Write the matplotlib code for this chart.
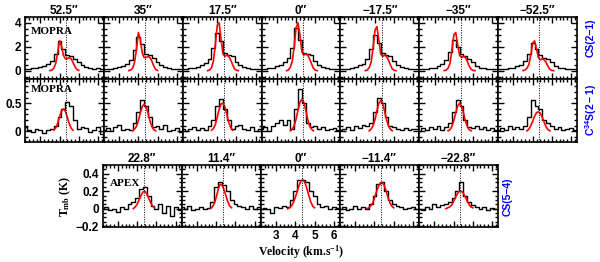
import matplotlib
matplotlib.use("Agg")
import matplotlib.pyplot as plt
from matplotlib.ticker import MultipleLocator
import numpy as np

nan = np.nan

# velocity channels (km/s) of the observed spectra
VEL = [2.2, 2.4, 2.6, 2.8, 3.0, 3.2, 3.4, 3.6, 3.8, 4.0, 4.2,
       4.4, 4.6, 4.8, 5.0, 5.2, 5.4, 5.6, 5.8, 6.0, 6.2, 6.4]
VSYS = 4.35

# CS(2-1), MOPRA
CS21_OFFSETS = ["52.5″", "35″", "17.5″", "0″", "−17.5″", "−35″", "−52.5″"]
CS21_OBS = [
    [0.15, 0.15, 0.2, 0.25, 0.3, 0.4, 0.55, 0.8, 1.4, 2.5, 1.8, 1.3, 1.2, 1.0, 0.7, 0.45, 0.3, 0.2, 0.15, 0.2, 0.1, 0.1],
    [0.1, 0.1, 0.15, 0.2, 0.3, 0.4, 0.55, 0.9, 1.7, 2.8, 2.2, 1.4, 1.3, 1.1, 0.7, 0.45, 0.3, 0.2, 0.15, 0.1, 0.1, 0.1],
    [0.1, 0.15, 0.2, 0.25, 0.3, 0.45, 0.65, 1.0, 1.9, 3.2, 2.5, 1.5, 1.3, 1.2, 0.7, 0.45, 0.3, 0.2, 0.15, 0.15, 0.1, 0.1],
    [0.1, 0.15, 0.2, 0.25, 0.35, 0.5, 0.7, 1.1, 1.9, 3.6, 2.6, 1.5, 1.4, 1.3, 0.8, 0.5, 0.3, 0.25, 0.15, 0.15, 0.1, 0.1],
    [0.1, 0.1, 0.15, 0.2, 0.3, 0.45, 0.6, 1.0, 1.8, 3.0, 2.3, 1.5, 1.3, 1.2, 0.8, 0.45, 0.3, 0.2, 0.15, 0.1, 0.1, 0.1],
    [0.1, 0.1, 0.15, 0.2, 0.25, 0.4, 0.55, 0.9, 1.6, 2.6, 2.0, 1.4, 1.2, 1.0, 0.7, 0.4, 0.25, 0.2, 0.15, 0.1, 0.1, 0.1],
    [0.1, 0.15, 0.15, 0.2, 0.25, 0.35, 0.5, 0.8, 1.4, 2.3, 1.8, 1.3, 1.1, 1.0, 0.7, 0.4, 0.25, 0.2, 0.15, 0.1, 0.1, 0.1],
]
CS21_VMOD = [3.5, 3.6, 3.7, 3.8, 3.9, 4.0, 4.1, 4.2, 4.3, 4.4, 4.5, 4.6, 4.7, 4.8, 4.9, 5.0, 5.1]
CS21_MOD = [
    [0.0, 0.05, 0.2, 0.6, 1.5, 2.5, 2.1, 1.3, 1.0, 1.0, 1.1, 1.0, 0.7, 0.35, 0.1, 0.02, nan],
    [0.0, 0.05, 0.2, 0.7, 1.8, 3.2, 2.6, 1.5, 1.1, 1.1, 1.2, 1.1, 0.8, 0.4, 0.1, 0.02, nan],
    [0.0, 0.05, 0.25, 0.8, 2.2, 3.8, 4.0, 2.6, 1.4, 1.2, 1.3, 1.2, 0.9, 0.5, 0.15, 0.03, 0.0],
    [0.0, 0.05, 0.3, 0.8, 2.0, 3.6, 4.0, 3.0, 1.6, 1.3, 1.4, 1.3, 1.0, 0.6, 0.2, 0.05, 0.0],
    [0.0, 0.05, 0.25, 0.7, 1.9, 3.4, 3.7, 2.6, 1.4, 1.2, 1.3, 1.2, 0.9, 0.5, 0.15, 0.03, 0.0],
    [0.0, 0.05, 0.2, 0.6, 1.7, 3.0, 3.2, 2.2, 1.3, 1.1, 1.2, 1.1, 0.8, 0.4, 0.12, 0.02, 0.0],
    [0.0, 0.05, 0.2, 0.5, 1.3, 2.3, 2.5, 1.8, 1.1, 0.9, 1.0, 0.9, 0.7, 0.35, 0.1, 0.02, 0.0],
]

# C34S(2-1), MOPRA
C34S_OBS = [
    [0.08, 0.03, -0.02, 0.05, 0.02, -0.03, 0.02, 0.04, 0.1, 0.25, 0.4, 0.52, 0.45, 0.2, 0.05, 0.08, 0.06, -0.02, 0.03, 0.08, -0.05, 0.05],
    [0.03, 0.06, 0.0, 0.08, 0.12, 0.02, 0.05, 0.03, 0.15, 0.35, 0.55, 0.45, 0.25, 0.08, 0.1, 0.05, 0.12, 0.0, 0.03, 0.06, -0.02, 0.05],
    [0.05, 0.0, 0.04, 0.08, 0.02, 0.06, 0.03, 0.1, 0.2, 0.45, 0.58, 0.4, 0.2, 0.05, 0.1, 0.12, 0.05, 0.03, 0.08, 0.0, 0.04, 0.02],
    [0.05, 0.08, 0.0, 0.1, 0.15, 0.2, 0.12, 0.2, 0.05, 0.4, 0.75, 0.5, 0.15, 0.08, 0.1, 0.05, 0.07, 0.03, 0.05, 0.06, 0.02, 0.04],
    [0.02, 0.05, 0.08, 0.03, 0.1, 0.06, 0.12, 0.1, 0.15, 0.35, 0.6, 0.5, 0.25, 0.1, 0.08, 0.05, 0.03, 0.06, 0.02, 0.04, 0.05, 0.03],
    [0.0, 0.06, 0.02, 0.08, 0.05, 0.1, 0.03, 0.08, 0.15, 0.35, 0.55, 0.45, 0.2, 0.08, 0.06, 0.1, 0.05, 0.08, 0.03, 0.06, 0.02, 0.04],
    [0.03, 0.06, 0.02, 0.1, 0.05, 0.08, 0.05, 0.1, 0.25, 0.55, 0.45, 0.4, 0.2, 0.15, 0.1, 0.05, 0.08, 0.02, 0.04, 0.06, 0.03, 0.05],
]
C34S_VMOD = [3.7, 3.8, 3.9, 4.0, 4.1, 4.2, 4.3, 4.4, 4.5, 4.6, 4.7, 4.8, 4.9]
C34S_MOD = [
    [0.02, 0.06, 0.14, 0.26, 0.36, 0.4, 0.36, 0.26, 0.14, 0.06, 0.02, nan, nan],
    [0.01, 0.04, 0.09, 0.19, 0.33, 0.44, 0.48, 0.44, 0.33, 0.19, 0.09, 0.03, 0.01],
    [0.02, 0.05, 0.12, 0.25, 0.39, 0.49, 0.5, 0.43, 0.3, 0.16, 0.07, 0.02, nan],
    [0.01, 0.04, 0.1, 0.22, 0.38, 0.52, 0.57, 0.52, 0.38, 0.22, 0.1, 0.04, 0.01],
    [0.01, 0.04, 0.1, 0.21, 0.36, 0.5, 0.55, 0.5, 0.36, 0.21, 0.1, 0.04, 0.01],
    [0.01, 0.03, 0.09, 0.19, 0.33, 0.45, 0.5, 0.45, 0.33, 0.19, 0.09, 0.03, 0.01],
    [0.01, 0.04, 0.1, 0.18, 0.27, 0.33, 0.35, 0.32, 0.25, 0.16, 0.08, 0.03, 0.01],
]

# CS(5-4), APEX
CS54_OFFSETS = ["22.8″", "11.4″", "0″", "−11.4″", "−22.8″"]
CS54_OBS = [
    [0.0, 0.02, -0.02, 0.0, -0.04, 0.02, 0.0, 0.05, 0.08, 0.12, 0.22, 0.25, 0.15, 0.03, 0.0, 0.05, -0.05, 0.03, -0.08, 0.02, -0.02, 0.01],
    [0.02, 0.0, 0.03, -0.02, 0.0, 0.02, 0.0, 0.01, 0.08, 0.25, 0.3, 0.27, 0.2, 0.1, 0.05, 0.03, 0.02, 0.0, 0.03, 0.0, 0.02, 0.0],
    [0.0, 0.01, 0.0, -0.05, 0.02, 0.01, 0.03, 0.02, 0.1, 0.2, 0.33, 0.33, 0.3, 0.2, 0.15, 0.05, 0.02, 0.03, 0.0, 0.02, 0.01, 0.0],
    [0.0, 0.02, -0.02, 0.0, 0.03, 0.0, 0.02, 0.0, 0.05, 0.15, 0.28, 0.3, 0.2, 0.1, 0.05, 0.03, 0.02, 0.0, 0.01, 0.02, 0.0, -0.01],
    [0.0, -0.02, 0.02, 0.0, 0.05, 0.02, 0.04, 0.05, 0.08, 0.12, 0.2, 0.3, 0.15, 0.08, 0.04, 0.02, 0.0, 0.02, -0.02, 0.01, 0.0, -0.02],
]
CS54_VMOD = [3.6, 3.7, 3.8, 3.9, 4.0, 4.1, 4.2, 4.3, 4.4, 4.5, 4.6, 4.7, 4.8, 4.9, 5.0, 5.1, 5.2]
CS54_MOD = [
    [nan, nan, 0.0, 0.02, 0.05, 0.1, 0.15, 0.19, 0.2, 0.17, 0.12, 0.07, 0.03, 0.01, nan, nan, nan],
    [nan, 0.0, 0.02, 0.06, 0.13, 0.22, 0.28, 0.27, 0.22, 0.15, 0.08, 0.03, 0.01, nan, nan, nan, nan],
    [0.0, 0.01, 0.03, 0.07, 0.13, 0.2, 0.27, 0.32, 0.33, 0.3, 0.23, 0.15, 0.08, 0.03, 0.01, nan, nan],
    [0.0, 0.01, 0.03, 0.06, 0.12, 0.19, 0.25, 0.29, 0.3, 0.27, 0.21, 0.13, 0.07, 0.03, 0.01, nan, nan],
    [0.0, 0.01, 0.02, 0.04, 0.08, 0.13, 0.17, 0.2, 0.2, 0.18, 0.14, 0.09, 0.05, 0.02, 0.01, nan, nan],
]

plt.rcParams['mathtext.fontset'] = 'custom'
plt.rcParams['mathtext.rm'] = 'Liberation Serif:bold'
plt.rcParams['mathtext.it'] = 'Liberation Serif:bold'
plt.rcParams['mathtext.bf'] = 'Liberation Serif:bold'
plt.rcParams['mathtext.sf'] = 'Liberation Sans:bold'
plt.rcParams['axes.unicode_minus'] = True

SANS = ['Liberation Sans', 'DejaVu Sans']
SERIF = ['Liberation Serif', 'DejaVu Serif']
W, H = 600, 262
FS = 8.5

fig = plt.figure(figsize=(6, 2.62), dpi=100)


def add_panel(x0, y0, x1, y1):
    return fig.add_axes([x0 / W, 1 - y1 / H, (x1 - x0) / W, (y1 - y0) / H])


def style_panel(ax, ylim, ymaj, ymin, show_y=False, show_x=False):
    ax.set_xlim(2.2, 6.31)
    ax.set_ylim(*ylim)
    ax.xaxis.set_major_locator(MultipleLocator(1))
    ax.xaxis.set_minor_locator(MultipleLocator(0.2))
    ax.yaxis.set_major_locator(MultipleLocator(ymaj))
    ax.yaxis.set_minor_locator(MultipleLocator(ymin))
    ax.tick_params(which='both', direction='in', top=True, right=True, width=1.0)
    ax.tick_params(which='major', length=4.5)
    ax.tick_params(which='minor', length=2.2)
    ax.tick_params(labelleft=show_y, labelbottom=show_x, pad=2.5, labelsize=FS)
    for lab in ax.get_xticklabels() + ax.get_yticklabels():
        lab.set_fontfamily(SANS)
        lab.set_fontweight('bold')
    for sp in ax.spines.values():
        sp.set_linewidth(1.2)


def draw(ax, obs, vmod, mod):
    ax.step(VEL, obs, where='mid', color='black', lw=1.0)
    ax.plot(vmod, mod, color='red', lw=1.2)
    ax.axvline(VSYS, color='black', ls=(0, (1, 1.5)), lw=0.7)


colw = (577 - 25) / 7
for i in range(7):
    x0 = 25 + i * colw
    ax1 = add_panel(x0, 17, x0 + colw, 79)
    draw(ax1, CS21_OBS[i], CS21_VMOD, CS21_MOD[i])
    style_panel(ax1, (-0.7, 4.5), 2, 0.5, show_y=(i == 0))
    ax1.set_yticks([0, 2, 4])
    ax1.set_title(CS21_OFFSETS[i], fontsize=FS, fontweight='bold', family=SANS, pad=2.5)

    ax2 = add_panel(x0, 79, x0 + colw, 141.5)
    draw(ax2, C34S_OBS[i], C34S_VMOD, C34S_MOD[i])
    style_panel(ax2, (-0.18, 0.93), 0.5, 0.1, show_y=(i == 0))
    ax2.set_yticks([0, 0.5])
    ax2.set_yticklabels(['0', '0.5'])
    if i == 0:
        ax1.text(0.08, 0.77, 'MOPRA', transform=ax1.transAxes, family=SERIF,
                 fontweight='bold', fontsize=8, va='center', zorder=5)
        ax2.text(0.08, 0.83, 'MOPRA', transform=ax2.transAxes, family=SERIF,
                 fontweight='bold', fontsize=8, va='center', zorder=5)

colw3 = (498 - 102.5) / 5
for i in range(5):
    x0 = 102.5 + i * colw3
    ax3 = add_panel(x0, 165, x0 + colw3, 227)
    draw(ax3, CS54_OBS[i], CS54_VMOD, CS54_MOD[i])
    style_panel(ax3, (-0.21, 0.5), 0.2, 0.05, show_y=(i == 0), show_x=(i == 2))
    ax3.set_yticks([-0.2, 0, 0.2, 0.4])
    if i == 0:
        ax3.set_yticklabels(['−0.2', '0', '0.2', '0.4'])
        ax3.text(0.09, 0.7, 'APEX', transform=ax3.transAxes, family=SERIF,
                 fontweight='bold', fontsize=8, va='center')
        ax3.set_ylabel(r'T$_{\rm mb}$ (K)', family=SERIF, fontweight='bold',
                       fontsize=FS, labelpad=2)
    if i == 2:
        ax3.set_xticks([3, 4, 5, 6])
        for lab in ax3.get_xticklabels():
            lab.set_fontfamily(SANS)
            lab.set_fontweight('bold')
    ax3.set_title(CS54_OFFSETS[i], fontsize=FS, fontweight='bold', family=SANS, pad=2.5)

fig.text(301 / W, 1 - 252 / H, r'Velocity (km.s$^{-1}$)', family=SERIF,
         fontweight='bold', fontsize=FS, ha='center', va='center')

fig.text(591 / W, 1 - 38 / H, 'CS(2−1)', color='blue', family=SANS,
         fontweight='bold', fontsize=7.5, rotation=90, ha='center', va='center')
fig.text(591 / W, 1 - 110 / H, r'$\mathsf{C^{34}S(2-1)}$', color='blue',
         fontsize=7.5, rotation=90, ha='center', va='center')
fig.text(508 / W, 1 - 197 / H, 'CS(5−4)', color='blue', family=SANS,
         fontweight='bold', fontsize=7.5, rotation=90, ha='center', va='center')

fig.savefig('out.png', dpi=100)
